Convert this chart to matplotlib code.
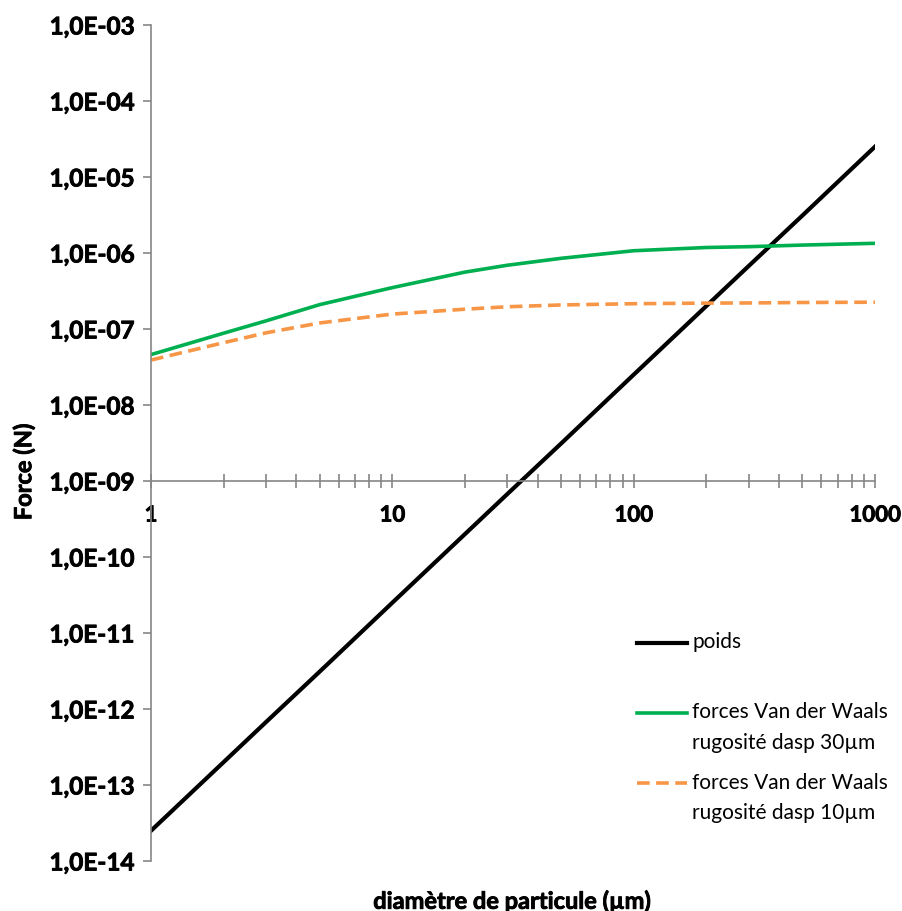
import numpy as np
import matplotlib.pyplot as plt
import matplotlib.patheffects as pe
from matplotlib.lines import Line2D
from matplotlib.legend_handler import HandlerLine2D
from matplotlib.ticker import FixedLocator, FuncFormatter, LogLocator, NullFormatter

plt.rcParams['font.family'] = ['Lato', 'DejaVu Sans']

###data
diametre = [1, 2, 3, 5, 10, 20, 30, 50, 100, 200, 300, 500, 1000]
poids = [2.5e-14, 2.0e-13, 6.75e-13, 3.1e-12, 2.5e-11, 2.0e-10, 6.75e-10,
         3.1e-9, 2.5e-8, 2.0e-7, 6.75e-7, 3.1e-6, 2.5e-5]
vdw_30 = [4.6e-8, 8.8e-8, 1.28e-7, 2.09e-7, 3.5e-7, 5.6e-7, 6.9e-7,
          8.5e-7, 1.07e-6, 1.18e-6, 1.21e-6, 1.27e-6, 1.34e-6]
vdw_10 = [3.9e-8, 6.6e-8, 8.9e-8, 1.2e-7, 1.57e-7, 1.82e-7, 1.96e-7,
          2.07e-7, 2.15e-7, 2.19e-7, 2.2e-7, 2.23e-7, 2.25e-7]
labels = ['poids\n ',
          'forces Van der Waals\nrugosité dasp 30µm',
          'forces Van der Waals\nrugosité dasp 10µm']
yticks = [10.0**k for k in range(-14, -2)]

grey = '#868686'
thick = [pe.withStroke(linewidth=0.6, foreground='black')]


class FirstLineHandler(HandlerLine2D):
    """legend line drawn next to the first line of a two-line label"""
    def __init__(self, shift, **kw):
        super().__init__(**kw)
        self.shift = shift

    def create_artists(self, legend, orig_handle, xdescent, ydescent,
                       width, height, fontsize, trans):
        artists = super().create_artists(legend, orig_handle, xdescent, ydescent,
                                         width, height, fontsize, trans)
        for a in artists:
            a.set_ydata(np.asarray(a.get_ydata(), float) + self.shift)
        return artists


fig = plt.figure(figsize=(9.02, 9.11), dpi=100)
ax = fig.add_axes([0.1674, 0.0549, 0.8026, 0.9177])

ax.plot(diametre, poids, color='black', lw=3, label=labels[0])
ax.plot(diametre, vdw_30, color='#00B050', lw=2.6, label=labels[1])
ax.plot(diametre, vdw_10, color='#F79646', lw=2.6, dashes=(3.5, 1.8), label=labels[2])

ax.set_xscale('log')
ax.set_yscale('log')
ax.set_xlim(1, 1000)
ax.set_ylim(1e-14, 1e-3)

###axes in Excel style: x axis crosses at 1E-09
ax.spines['bottom'].set_position(('data', 1e-9))
ax.spines['top'].set_visible(False)
ax.spines['right'].set_visible(False)
for s in ['left', 'bottom']:
    ax.spines[s].set_color(grey)
    ax.spines[s].set_linewidth(1.2)

ax.yaxis.set_major_locator(FixedLocator(yticks))
ax.yaxis.set_minor_locator(FixedLocator([]))
ax.yaxis.set_major_formatter(FuncFormatter(lambda v, p: '1,0E-%02d' % round(-np.log10(v))))
ax.tick_params(axis='y', which='major', direction='out', length=6, width=1.2,
               color=grey, labelsize=17.5, pad=6)

ax.xaxis.set_major_locator(FixedLocator([1, 10, 100, 1000]))
ax.xaxis.set_major_formatter(FuncFormatter(lambda v, p: '%d' % v))
ax.xaxis.set_minor_locator(LogLocator(base=10, subs=np.arange(2, 10)))
ax.xaxis.set_minor_formatter(NullFormatter())
ax.tick_params(axis='x', which='both', direction='inout', length=10, width=1.2,
               color=grey, labelsize=16, pad=12)
for lab in ax.get_xticklabels() + ax.get_yticklabels():
    lab.set_fontweight('bold')
    lab.set_path_effects(thick)

fig.text(0.026, 0.482, 'Force (N)', rotation=90, ha='center', va='center',
         fontsize=17, fontweight='bold', path_effects=thick)
fig.text(0.568, 0.011, 'diamètre de particule (µm)', ha='center', va='center',
         fontsize=17, fontweight='bold', path_effects=thick)

leg = ax.legend(loc='upper left', bbox_to_anchor=(637 / 902, 1 - 632 / 911),
                bbox_transform=fig.transFigure, frameon=False, borderpad=0,
                borderaxespad=0, fontsize=15, handlelength=2.4, handletextpad=0.25,
                labelspacing=0.93, handler_map={Line2D: FirstLineHandler(11.2)})
for t in leg.get_texts():
    t.set_linespacing(1.68)

fig.savefig('out.png', dpi=100)
